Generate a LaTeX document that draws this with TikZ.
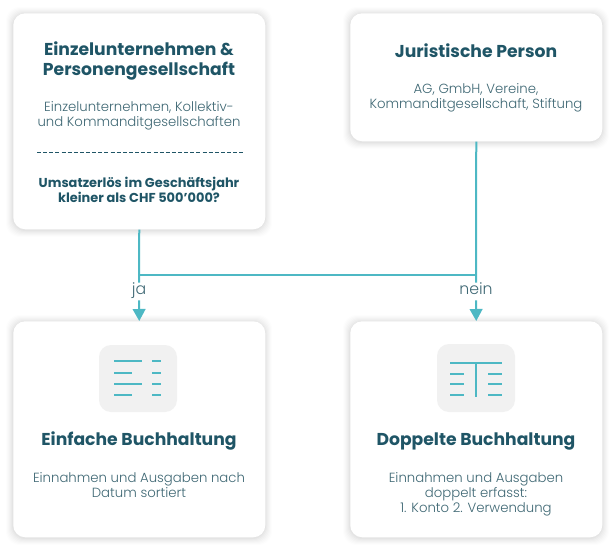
\documentclass[tikz,border=0pt]{standalone}
\usepackage{fontspec}
\setmainfont{Poppins}
\newfontfamily\lightf{Poppins Light}
\usetikzlibrary{arrows.meta}
\definecolor{teal1}{HTML}{1F5566}
\definecolor{teal2}{HTML}{3F6874}
\definecolor{linec}{HTML}{4DB8C4}
\definecolor{iconbg}{HTML}{F1F1F1}
\tikzset{
 x=0.75pt,y=-0.75pt,
 cardbox/.style={fill=white,rounded corners=9pt,minimum width=189pt,inner sep=0pt,anchor=north west},
 title/.style={font=\fontsize{12.9}{15}\selectfont\bfseries,text=teal1,align=center,inner sep=0pt},
 body/.style={font=\lightf\fontsize{9.95}{11.25}\selectfont,text=teal2,align=center,inner sep=0pt},
 quest/.style={font=\fontsize{9.7}{11.25}\selectfont\bfseries,text=teal1,align=center,inner sep=0pt},
 lbl/.style={font=\lightf\fontsize{11.8}{12}\selectfont,text=teal2,inner sep=0pt,text height=8.25pt,text depth=4.5pt},
 conn/.style={draw=linec,line width=1.5pt},
 arr/.style={conn,-{Triangle[length=9pt,width=9.5pt]}},
 iconbox/.style={fill=iconbg,rounded corners=9pt,inner sep=0pt},
 iconl/.style={draw=linec,line width=1.3pt},
}
\newcommand{\shadowcard}[4]{%
 \foreach \e/\o in {7/0.008,6/0.010,5/0.012,4/0.014,3/0.017,2/0.020,1/0.025}{
  \fill[black,opacity=\o,rounded corners=10pt] (#1-\e,#2-\e+1) rectangle (#3+\e,#4+\e+1);
 }
}
\begin{document}
\begin{tikzpicture}
\useasboundingbox (0,0) rectangle (615,550);
\fill[white] (0,0) rectangle (615,550);
\shadowcard{13}{13}{265}{229}
\shadowcard{350}{13}{602}{141}
\shadowcard{13}{321}{265}{537}
\shadowcard{350}{321}{602}{537}
\node[cardbox,minimum height=162pt] (c1) at (13,13) {};
\node[cardbox,minimum height=96pt] (c2) at (350,13) {};
\node[cardbox,minimum height=162pt] (c3) at (13,321) {};
\node[cardbox,minimum height=162pt] (c4) at (350,321) {};
% texts
\node[title] (t1) at (139,61) {Einzelunternehmen \&\\Personengesellschaft};
\node[body] (b1) at (139,116) {Einzelunternehmen, Kollektiv-\\und Kommanditgesellschaften};
\coordinate (dl) at (37,152);
\coordinate (dr) at (243,152);
\draw[teal1,line width=0.6pt,dash pattern=on 3pt off 1.6pt] (dl) -- (dr);
\node[quest] (q1) at (139,190) {Umsatzerlös im Geschäftsjahr\\kleiner als CHF 500’000?};
\node[title] (t2) at (476,51) {Juristische Person};
\node[body] (b2) at (476,98) {AG, GmbH, Vereine,\\Kommanditgesellschaft, Stiftung};
\node[title] (t3) at (139,441) {Einfache Buchhaltung};
\node[body] (b3) at (139,485) {Einnahmen und Ausgaben nach\\Datum sortiert};
\node[title] (t4) at (476,441) {Doppelte Buchhaltung};
\node[body] (b4) at (476,494) {Einnahmen und Ausgaben\\doppelt erfasst:\\1. Konto 2. Verwendung};
% connectors
\node[lbl] (ja) at (139,291.5) {ja};
\node[lbl] (nein) at (476,291.5) {nein};
\coordinate (j1) at (c1.south |- 0,275);
\coordinate (j2) at (c2.south |- 0,275);
\draw[conn] (c1.south) -- (ja.north);
\draw[conn] (c2.south) -- (nein.north);
\draw[conn] (j1) -- (j2);
\draw[arr] (ja.south) -- (c3.north);
\draw[arr] (nein.south) -- (c4.north);
% left icon
\fill[iconbox] (99,345) rectangle (177,412);
\foreach \y/\r in {361/142,373/132,384/142,395/132}{
 \draw[iconl] (114,\y) -- (\r,\y);
 \draw[iconl] (152,\y) -- (161,\y);
}
% right icon
\fill[iconbox] (437,344) rectangle (515,412);
\draw[iconl] (450,363) -- (502,363);
\draw[iconl] (476,363) -- (476,397);
\foreach \y in {374,384,395}{
 \draw[iconl] (450,\y) -- (464,\y);
 \draw[iconl] (488,\y) -- (502,\y);
}
\end{tikzpicture}
\end{document}
